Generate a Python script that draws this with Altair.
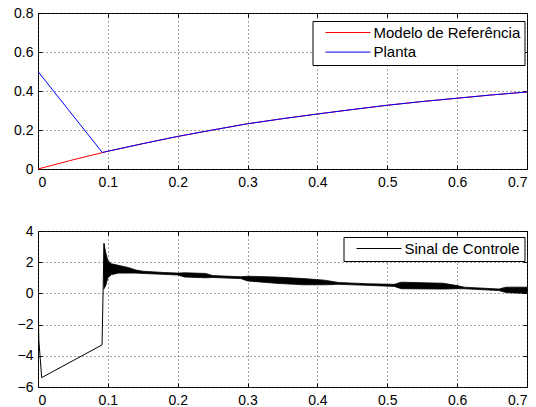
import altair as alt
import pandas as pd

# ---------------- data ----------------
t_ref = [0, 0.05, 0.1, 0.15, 0.2, 0.25, 0.3, 0.35, 0.4, 0.45, 0.5, 0.55, 0.6, 0.65, 0.7]
y_ref = [0, 0.047, 0.091, 0.130, 0.167, 0.200, 0.232, 0.258, 0.282, 0.305, 0.327, 0.346, 0.363, 0.380, 0.395]

t_plant = [0, 0.092, 0.1, 0.15, 0.2, 0.25, 0.3, 0.35, 0.4, 0.45, 0.5, 0.55, 0.6, 0.65, 0.7]
y_plant = [0.5, 0.085, 0.091, 0.130, 0.167, 0.200, 0.232, 0.258, 0.282, 0.305, 0.327, 0.346, 0.363, 0.380, 0.395]

t_ctrl = [0, 0.0012, 0.0053, 0.0917, 0.0945]
u_ctrl = [0, -3.0, -5.4, -3.3, 3.2]

t_band = [0.0945, 0.097, 0.100, 0.105, 0.115, 0.130, 0.140, 0.150, 0.180, 0.200, 0.210, 0.240,
          0.250, 0.290, 0.300, 0.340, 0.380, 0.410, 0.430, 0.470, 0.510, 0.520, 0.580, 0.600,
          0.610, 0.660, 0.670, 0.700]
u_lo = [0.30, 0.50, 1.00, 1.20, 1.30, 1.30, 1.30, 1.28, 1.22, 1.18, 1.05, 1.00,
        1.02, 0.95, 0.80, 0.65, 0.55, 0.55, 0.58, 0.52, 0.45, 0.30, 0.28, 0.30,
        0.30, 0.18, 0.05, 0.00]
u_hi = [3.20, 2.60, 2.10, 1.90, 1.80, 1.65, 1.50, 1.42, 1.34, 1.30, 1.32, 1.28,
        1.14, 1.07, 1.10, 1.05, 0.95, 0.85, 0.70, 0.62, 0.58, 0.72, 0.65, 0.50,
        0.40, 0.28, 0.40, 0.40]

x_ticks = [0, 0.1, 0.2, 0.3, 0.4, 0.5, 0.6, 0.7]
y_top_ticks = [0, 0.2, 0.4, 0.6, 0.8]
y_bot_ticks = [-6, -4, -2, 0, 2, 4]

names_top = ["Modelo de Referência", "Planta"]
colors_top = ["#ff0000", "#0000ff"]
names_bot = ["Sinal de Controle"]
colors_bot = ["#000000"]

# ---------------- styling ----------------
FONT = "Liberation Sans, Arial, Helvetica, sans-serif"
W, H = 489, 156
TK = 4
LBL = "datum.value == 0 ? '0' : format(datum.value, '.1f')"
LBL_INT = "format(datum.value, 'd')"
LINE_SYMBOL = "M-5,0H5"


def main_axis(orient, values, expr, pad):
    return alt.Axis(orient=orient, values=values, offset=-TK, tickSize=TK, tickColor="black",
                    domain=False, grid=True, gridDash=[1, 3], gridColor="#333333",
                    gridOpacity=0.9, labelFont=FONT, labelFontSize=14, labelColor="black",
                    labelPadding=pad, labelExpr=expr, title=None)


def tick_axis(orient, values):
    return alt.Axis(orient=orient, values=values, offset=-TK, tickSize=TK, tickColor="black",
                    domain=False, grid=False, labels=False, title=None)


def legend(x, y):
    return alt.Legend(orient="none", legendX=x, legendY=y, title=None, strokeColor="black",
                      fillColor="white", padding=4, symbolType=LINE_SYMBOL, symbolSize=81,
                      symbolStrokeWidth=1, symbolOffset=24, labelFont=FONT, labelFontSize=15,
                      labelColor="black", labelOffset=18, rowPadding=3.6, cornerRadius=0)


xs = alt.Scale(domain=[0, 0.7], nice=False, zero=False)
ys_top = alt.Scale(domain=[0, 0.8], nice=False)
ys_bot = alt.Scale(domain=[-6, 4], nice=False)

# ---------------- top panel ----------------
df_top = pd.concat([
    pd.DataFrame({"t": t_ref, "v": y_ref, "serie": names_top[0]}),
    pd.DataFrame({"t": t_plant, "v": y_plant, "serie": names_top[1]}),
])

top_lines = alt.Chart(df_top).mark_line(strokeWidth=1, clip=True).encode(
    x=alt.X("t:Q", scale=xs, axis=main_axis("bottom", x_ticks, LBL, 6)),
    y=alt.Y("v:Q", scale=ys_top, axis=main_axis("left", y_top_ticks, LBL, 5)),
    color=alt.Color("serie:N", scale=alt.Scale(domain=names_top, range=colors_top),
                    legend=legend(274.5, 8)),
    order=alt.Order("serie:N"),
)
top_ticks = alt.Chart(df_top).mark_line(opacity=0).encode(
    x=alt.X("t:Q", scale=xs, axis=tick_axis("top", x_ticks)),
    y=alt.Y("v:Q", scale=ys_top, axis=tick_axis("right", y_top_ticks)),
)
top = alt.layer(top_lines, top_ticks).resolve_axis(x="independent", y="independent").properties(
    width=W, height=H)

# ---------------- bottom panel ----------------
df_ctrl = pd.DataFrame({"t": t_ctrl, "u": u_ctrl, "serie": names_bot[0]})
df_band = pd.DataFrame({"t": t_band, "lo": u_lo, "hi": u_hi})

band = alt.Chart(df_band).mark_area(color="black", stroke="black", strokeWidth=0.8, clip=True).encode(
    x=alt.X("t:Q", scale=xs, axis=main_axis("bottom", x_ticks, LBL, 6)),
    y=alt.Y("lo:Q", scale=ys_bot, axis=main_axis("left", y_bot_ticks, LBL_INT, 5)),
    y2="hi:Q",
)
ctrl_line = alt.Chart(df_ctrl).mark_line(strokeWidth=1, clip=True).encode(
    x=alt.X("t:Q", scale=xs, axis=None),
    y=alt.Y("u:Q", scale=ys_bot, axis=None),
    color=alt.Color("serie:N", scale=alt.Scale(domain=names_bot, range=colors_bot),
                    legend=legend(305.5, 6)),
)
bot_ticks = alt.Chart(df_ctrl).mark_line(opacity=0).encode(
    x=alt.X("t:Q", scale=xs, axis=tick_axis("top", x_ticks)),
    y=alt.Y("u:Q", scale=ys_bot, axis=tick_axis("right", y_bot_ticks)),
)
bottom = alt.layer(band, ctrl_line, bot_ticks).resolve_axis(x="independent", y="independent").properties(
    width=W, height=H)

chart = alt.vconcat(top, bottom, spacing=33).resolve_scale(color="independent").resolve_legend(
    color="independent").configure(
    padding={"left": 13, "top": 5, "right": 0, "bottom": 0}, background="white", font=FONT
).configure_view(stroke="black", strokeWidth=1)

chart.save("out.html", embed_options={"renderer": "svg", "actions": False})
